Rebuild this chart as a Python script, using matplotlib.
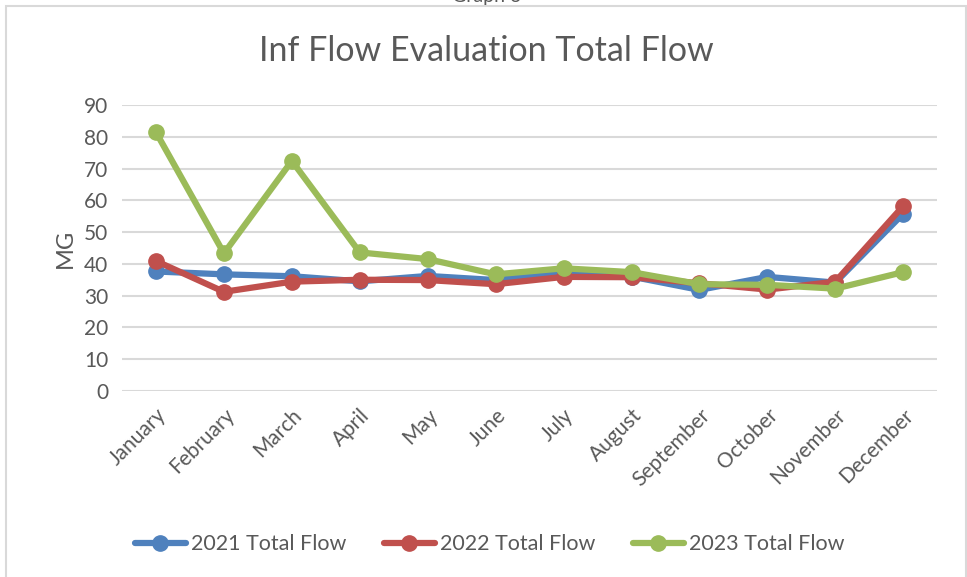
import matplotlib
matplotlib.use("Agg")
import matplotlib.pyplot as plt
from matplotlib.patches import Rectangle

months = ["January", "February", "March", "April", "May", "June", "July",
          "August", "September", "October", "November", "December"]
flow_2021 = [37.6, 36.7, 36.1, 34.5, 36.2, 34.9, 37.2, 36.0, 31.8, 35.9, 34.1, 55.8]
flow_2022 = [40.9, 31.2, 34.4, 35.0, 34.9, 33.6, 35.9, 35.8, 33.9, 31.9, 34.4, 58.2]
flow_2023 = [81.4, 43.3, 72.4, 43.6, 41.5, 36.7, 38.6, 37.4, 33.6, 33.4, 32.2, 37.4]
series = [("2021 Total Flow", flow_2021, "#4F81BD"),
          ("2022 Total Flow", flow_2022, "#C0504D"),
          ("2023 Total Flow", flow_2023, "#9BBB59")]

plt.rcParams['font.family'] = ['Lato', 'DejaVu Sans']
txt = "#595959"

fig = plt.figure(figsize=(9.67, 5.77), dpi=100)
ax = fig.add_axes([0.1262, 0.3224, 0.843, 0.4957])

# chart border
fig.patches.append(Rectangle((6 / 967, -0.05), 960 / 967, 1 - 6 / 577 + 0.05,
                             transform=fig.transFigure, fill=False,
                             edgecolor="#D9D9D9", lw=1.5))

x = list(range(len(months)))
for name, vals, col in series:
    ax.plot(x, vals, color=col, lw=4.5, marker="o", ms=11, label=name,
            solid_capstyle="round")

ax.set_xlim(-0.5, 11.5)
ax.set_ylim(0, 90)
ax.set_yticks(range(0, 91, 10))
ax.grid(axis="y", color="#D9D9D9", lw=1.5)
ax.set_axisbelow(True)
for s in ax.spines.values():
    s.set_visible(False)
ax.tick_params(length=0, labelsize=15, colors=txt, pad=10)
ax.set_xticks(x)
ax.set_xticklabels(months, rotation=45, ha="right", rotation_mode="anchor")
ax.set_ylabel("MG", fontsize=17, color=txt, labelpad=6)

fig.text(0.503, 0.912, "Inf Flow Evaluation Total Flow", ha="center",
         va="center", fontsize=24.5, color=txt)
# heading from the page above, mostly cut off by the top edge
fig.text(0.503, 1.006, "Graph 3", ha="center", va="center", fontsize=14,
         color=txt)

fig.legend(loc="center", bbox_to_anchor=(0.506, 0.057), ncol=3, frameon=False,
           fontsize=15.5, labelcolor=txt, handlelength=2.4, columnspacing=1.75,
           handletextpad=0.2)

fig.savefig("out.png", dpi=100)
